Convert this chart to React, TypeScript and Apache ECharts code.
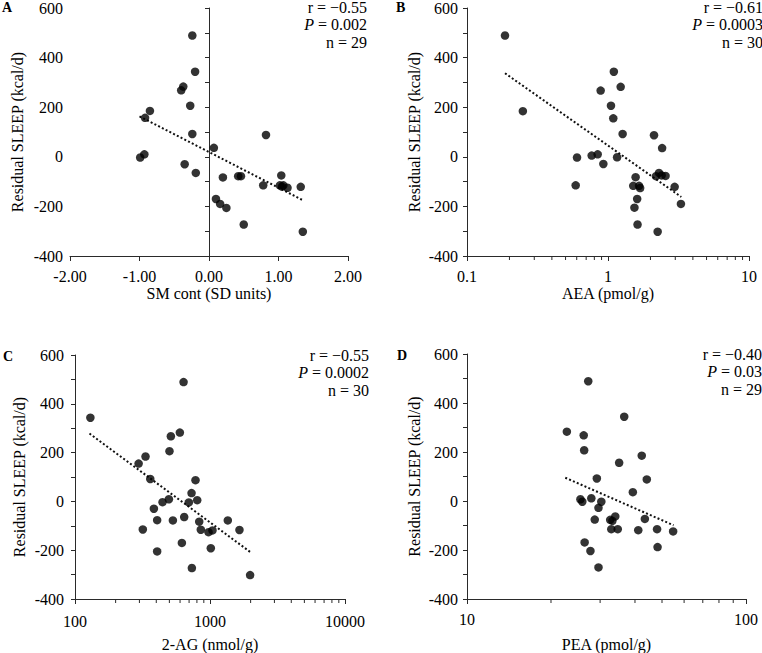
import React, { useEffect, useRef } from "react";
import * as echarts from "echarts";

// ---------- data ----------
const yTicks = [-400, -200, 0, 200, 400, 600];

const aX = [-0.24, -0.2, -0.37, -0.4, -0.27, -0.85, -0.92, -0.24, 0.82, 0.07, -0.99, -0.93, -0.35, -0.19, 0.2, 0.42, 0.46, 1.04, 0.78, 1.02, 1.07, 1.13, 1.05, 1.32, 0.1, 0.16, 0.25, 0.5, 1.35];
const aY = [489, 343, 283, 268, 206, 185, 157, 92, 88, 36, -3, 10, -30, -65, -83, -78, -78, -75, -115, -115, -115, -125, -120, -121, -170, -190, -206, -273, -302];
const aTrend = [[-1.0, 163], [1.35, -175]];

const bX = [0.186, 0.249, 1.1, 0.887, 1.23, 1.05, 1.09, 1.27, 2.12, 2.42, 0.603, 0.59, 0.766, 0.845, 0.927, 1.16, 1.57, 1.51, 1.66, 1.69, 1.61, 1.54, 1.62, 2.19, 2.3, 2.4, 2.56, 2.97, 3.29, 2.25];
const bY = [489, 184, 343, 267, 282, 206, 155, 92, 87, 35, -3, -115, 5, 10, -29, -2, -82, -117, -117, -126, -170, -205, -273, -78, -65, -75, -77, -121, -190, -302];
const bTrend = [[0.186, 337], [3.31, -162]];

const cX = [130, 637, 598, 513, 501, 296, 333, 361, 781, 730, 804, 697, 496, 445, 384, 406, 531, 644, 832, 855, 318, 975, 1043, 1355, 1653, 619, 1014, 406, 734, 1982];
const cY = [343, 489, 282, 267, 206, 155, 184, 92, 87, 34, 5, -4, 9, -3, -30, -77, -78, -64, -83, -116, -115, -126, -119, -78, -117, -170, -192, -205, -273, -302];
const cTrend = [[128, 278], [2005, -209]];

const dX = [27.2, 22.8, 26.2, 26.3, 36.6, 42.3, 35.1, 29.2, 44.1, 39.3, 25.5, 25.9, 27.9, 30.3, 29.6, 28.7, 32.6, 33.2, 34.0, 32.9, 34.7, 43.4, 41.1, 48.0, 54.8, 48.2, 26.4, 27.7, 29.6];
const dY = [489, 283, 268, 207, 344, 185, 156, 92, 88, 36, 7, -3, 11, -3, -28, -76, -77, -81, -63, -115, -115, -73, -119, -115, -124, -188, -169, -204, -271];
const dTrend = [[22.5, 95], [55.0, -99]];

const bMinor = [0.2, 0.3, 0.4, 0.5, 0.6, 0.7, 0.8, 0.9, 2, 3, 4, 5, 6, 7, 8, 9];
const cMinor = [200, 300, 400, 500, 600, 700, 800, 900, 2000, 3000, 4000, 5000, 6000, 7000, 8000, 9000];
const dMinor = [20, 30, 40, 50, 60, 70, 80, 90];

const panels = [
  { letter: "A", title: "SM cont (SD units)", r: "r = \u22120.55", p: "0.002", n: "n = 29" },
  { letter: "B", title: "AEA (pmol/g)", r: "r = \u22120.61", p: "0.0003", n: "n = 30" },
  { letter: "C", title: "2-AG (nmol/g)", r: "r = \u22120.55", p: "0.0002", n: "n = 30" },
  { letter: "D", title: "PEA (pmol/g)", r: "r = \u22120.40", p: "0.03", n: "n = 29" },
];

const FONT = "'Liberation Serif', 'Times New Roman', serif";
const AXIS = "#2a2a2a";
const TEXT = "#000000";
const FS = 16;

function zip(xs: number[], ys: number[]) {
  return xs.map((x, i) => [x, ys[i]]);
}

function fmtNum(v: number) {
  return String(Number(v.toPrecision(6)));
}

export default function App() {
  const ref = useRef<HTMLDivElement>(null);
  useEffect(() => {
    if (!ref.current) return;
    const chart = echarts.init(ref.current, null, { renderer: "svg" });

    const grids = [
      { left: 70, top: 7, width: 278, height: 249 },
      { left: 467, top: 7, width: 282, height: 249 },
      { left: 75, top: 355, width: 270, height: 249 },
      { left: 467, top: 354, width: 279, height: 250 },
    ];
    const yNameGap = [45, 45, 48, 45];
    const yLabelMargin = [7, 9, 11, 9];
    const xNameGap = [29, 29, 37, 37];
    const xLabelMargin = [12, 12, 14, 12];

    const yAxes = grids.map((_, i) => ({
      type: "value",
      gridIndex: i,
      min: yTicks[0],
      max: yTicks[yTicks.length - 1],
      interval: 100,
      name: "Residual SLEEP (kcal/d)",
      nameLocation: "middle",
      nameGap: yNameGap[i],
      nameTextStyle: { fontFamily: FONT, fontSize: FS, color: TEXT },
      axisLine: { show: true, lineStyle: { color: AXIS, width: 1 } },
      axisTick: { show: true, length: 4, lineStyle: { color: AXIS } },
      axisLabel: {
        fontFamily: FONT,
        fontSize: FS,
        color: TEXT,
        margin: yLabelMargin[i],
        formatter: (v: number) => (yTicks.includes(v) ? String(v) : ""),
      },
      splitLine: { show: false },
    }));

    const logLabel = {
      fontFamily: FONT,
      fontSize: FS,
      color: TEXT,
      formatter: (v: number) => fmtNum(v),
    };

    const xAxes: any[] = [
      {
        type: "value",
        gridIndex: 0,
        min: -2,
        max: 2,
        interval: 1,
        axisLabel: { fontFamily: FONT, fontSize: FS, color: TEXT, margin: xLabelMargin[0], formatter: (v: number) => v.toFixed(2) },
      },
      { type: "log", logBase: 10, gridIndex: 1, min: 0.1, max: 10, axisLabel: { ...logLabel, margin: xLabelMargin[1] } },
      { type: "log", logBase: 10, gridIndex: 2, min: 100, max: 10000, axisLabel: { ...logLabel, margin: xLabelMargin[2] } },
      { type: "log", logBase: 10, gridIndex: 3, min: 10, max: 100, axisLabel: { ...logLabel, margin: xLabelMargin[3] } },
    ].map((ax, i) => ({
      ...ax,
      name: panels[i].title,
      nameLocation: "middle",
      nameGap: xNameGap[i],
      nameTextStyle: { fontFamily: FONT, fontSize: FS, color: TEXT },
      axisLine: { show: true, onZero: false, lineStyle: { color: AXIS, width: 1 } },
      axisTick: { show: true, length: 5, lineStyle: { color: AXIS } },
      splitLine: { show: false },
      minorTick: { show: false },
    }));

    const scatter = (i: number, xs: number[], ys: number[]) => ({
      type: "scatter",
      xAxisIndex: i,
      yAxisIndex: i,
      data: zip(xs, ys),
      symbol: "circle",
      symbolSize: 8.5,
      itemStyle: { color: "#000" },
      silent: true,
      z: 3,
    });
    const trend = (i: number, pts: number[][]) => ({
      type: "line",
      xAxisIndex: i,
      yAxisIndex: i,
      data: pts,
      symbol: "none",
      lineStyle: { color: "#111", width: 2, type: [2, 2.2] },
      silent: true,
      z: 2,
    });
    const minorTicks = (i: number, vals: number[]) => ({
      type: "custom",
      xAxisIndex: i,
      yAxisIndex: i,
      clip: false,
      silent: true,
      data: vals.map((v) => [v, yTicks[0]]),
      encode: { x: 0, y: 1 },
      renderItem: (params: any, api: any) => {
        const p = api.coord([api.value(0), api.value(1)]);
        return {
          type: "line",
          shape: { x1: p[0], y1: p[1], x2: p[0], y2: p[1] + 4 },
          style: { stroke: AXIS, lineWidth: 1 },
        };
      },
    });

    const annoRight = [367, 763, 369, 762];
    const annoTop = [7, 7, 355, 354];
    const letterPos = [
      [2, 7],
      [396, 7],
      [3, 356],
      [397, 355],
    ];
    const graphic: any[] = [];
    panels.forEach((pn, i) => {
      const base = { fontFamily: FONT, fontSize: FS, fill: TEXT, align: "right", verticalAlign: "middle" };
      graphic.push({ type: "text", x: annoRight[i], y: annoTop[i], style: { ...base, text: pn.r } });
      graphic.push({
        type: "text",
        x: annoRight[i],
        y: annoTop[i] + 17.5,
        style: {
          ...base,
          text: "{it|P} = " + pn.p,
          rich: { it: { fontStyle: "italic", fontFamily: FONT, fontSize: FS, fill: TEXT } },
        },
      });
      graphic.push({ type: "text", x: annoRight[i], y: annoTop[i] + 35, style: { ...base, text: pn.n } });
      graphic.push({
        type: "text",
        x: letterPos[i][0],
        y: letterPos[i][1],
        style: { text: pn.letter, fontFamily: FONT, fontSize: 14, fontWeight: "bold", fill: "#000", align: "left", verticalAlign: "middle" },
      });
    });

    chart.setOption({
      animation: false,
      backgroundColor: "#fff",
      grid: grids,
      xAxis: xAxes,
      yAxis: yAxes,
      graphic,
      series: [
        minorTicks(1, bMinor),
        minorTicks(2, cMinor),
        minorTicks(3, dMinor),
        trend(0, aTrend),
        trend(1, bTrend),
        trend(2, cTrend),
        trend(3, dTrend),
        scatter(0, aX, aY),
        scatter(1, bX, bY),
        scatter(2, cX, cY),
        scatter(3, dX, dY),
      ],
    });
    return () => chart.dispose();
  }, []);
  return <div ref={ref} style={{ position: "fixed", left: 0, top: 0, width: 762, height: 653, background: "#fff" }} />;
}
